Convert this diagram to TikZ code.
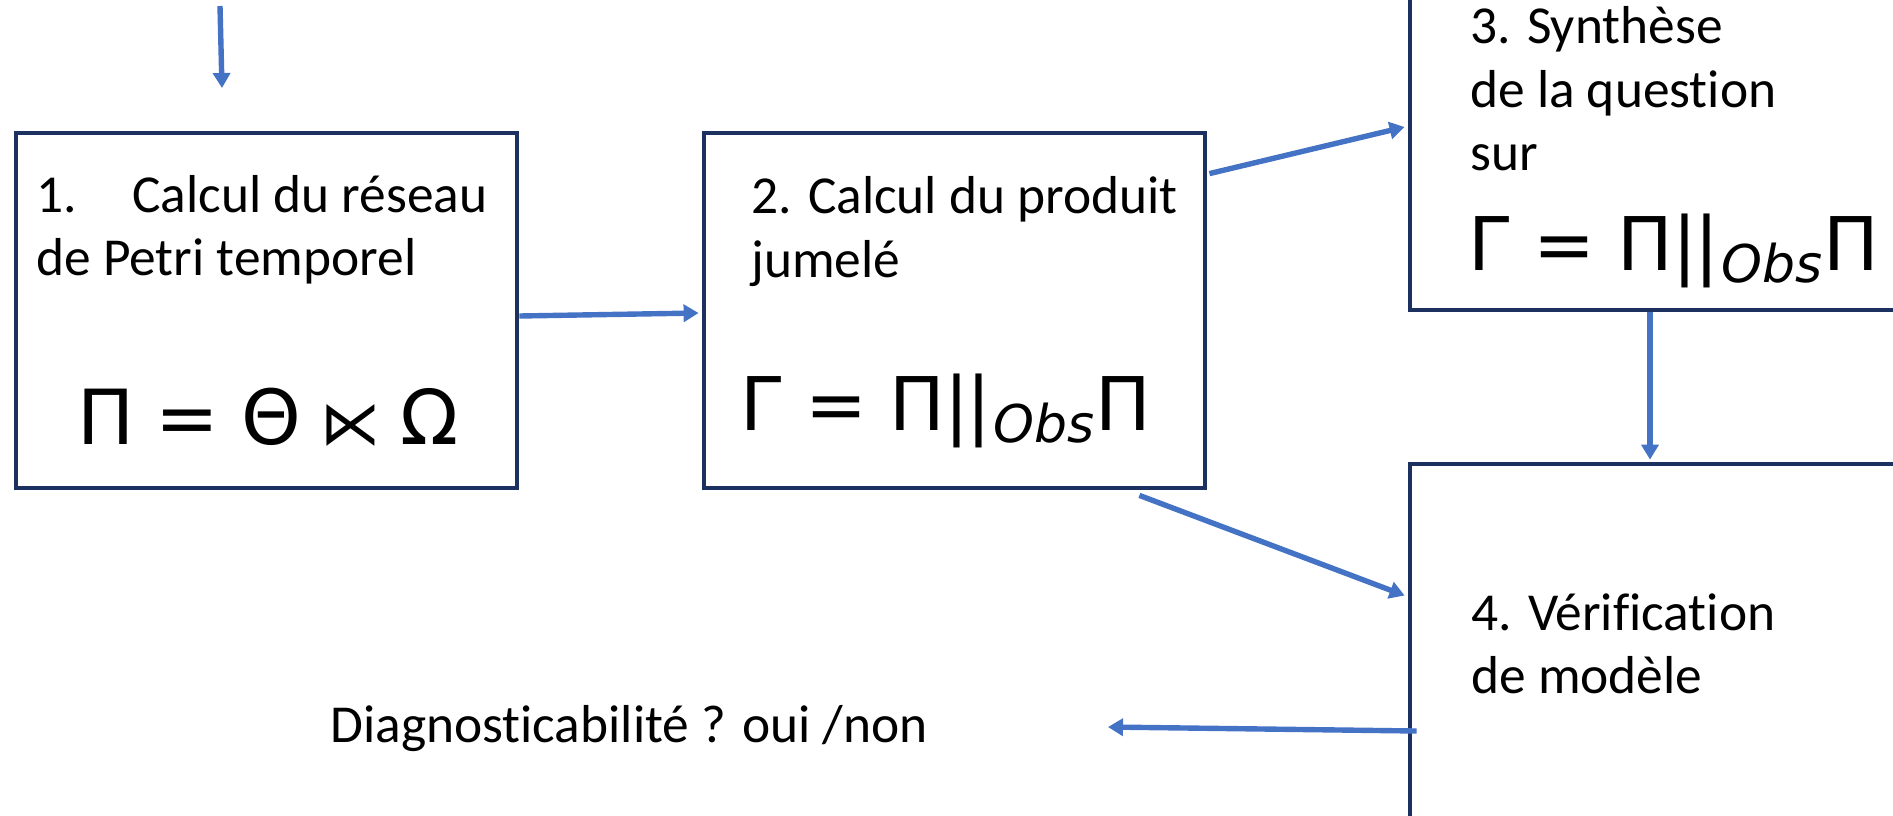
\documentclass[tikz,border=0pt]{standalone}
\usepackage{fontspec}
\setmainfont{Carlito}[Ligatures=NoCommon]
\newfontfamily\dv{DejaVu Sans}
\usetikzlibrary{arrows.meta,calc}
\definecolor{boxline}{HTML}{1C3160}
\definecolor{arrblue}{HTML}{4472C4}
\tikzset{
 stepbox/.style={draw=boxline, line width=2.4pt, rectangle, minimum width=250.5pt, minimum height=177.5pt, inner sep=0pt},
 txt/.style={anchor=base west, inner sep=0pt, font=\fontsize{26.7pt}{32pt}\selectfont},
 frm/.style={anchor=base west, inner sep=0pt, font=\dv\fontsize{37pt}{40pt}\selectfont},
 arr/.style={draw=arrblue, line width=2.7pt, -{Triangle[length=7.5pt,width=8.5pt]}},
}
\newcommand{\obsprod}{\makebox[0pt][l]{Γ}\hspace{48.25pt}\makebox[0pt]{=}\hspace{40.25pt}\makebox[0pt]{Π}\hspace{19.75pt}\makebox[0pt]{|}\hspace{11pt}\makebox[0pt]{|}\hspace{7.25pt}\makebox[0pt][l]{\raisebox{-6.25pt}{\fontsize{26pt}{26pt}\selectfont\itshape Obs}}\hspace{65pt}\makebox[0pt]{Π}}
\newcommand{\semidir}{\makebox[0pt]{Π}\hspace{40.5pt}\makebox[0pt]{=}\hspace{42pt}\makebox[0pt]{Θ}\hspace{39.5pt}\makebox[0pt]{\scalebox{0.8}{⋉}}\hspace{39.5pt}\makebox[0pt]{Ω}}
\begin{document}
\begin{tikzpicture}[x=0.5pt,y=-0.5pt]
\useasboundingbox (0,0) rectangle (1893,815);
\clip (0,0) rectangle (1893,815);
% boxes
\node[stepbox] (b1) at (266.5,310.5) {};
\node[stepbox] (b2) at (954.5,310.5) {};
\node[stepbox] (b3) at (1660.5,132.5) {};
\node[stepbox] (b4) at (1660.5,641.5) {};
% texts
\node[txt] (t1a) at (36,212) {\makebox[48pt][l]{1.}Calcul du réseau};
\node[txt] (t1b) at (36,275) {de Petri temporel};
\node[frm, font=\dv\fontsize{38pt}{40pt}\selectfont] (f1) at (106,444) {\semidir};
\node[txt] (t2a) at (751,213) {2. Calcul du produit};
\node[txt] (t2b) at (751,277) {jumelé};
\node[frm] (f2) at (740,430) {\obsprod};
\node[txt] (t3a) at (1470,43) {3. Synthèse};
\node[txt] (t3b) at (1470,107) {de la question};
\node[txt] (t3c) at (1470,170) {sur};
\node[frm] (f3) at (1468,270) {\obsprod};
\node[txt] (t4a) at (1471,630) {4. Vérification};
\node[txt] (t4b) at (1471,693) {de modèle};
\node[txt] (diag) at (330,742) {Diagnosticabilité ? oui /non};
% free ends
\coordinate (src) at (220,6);
\coordinate (snk) at (222,88);
\coordinate (out) at (1108,727);
% connectors
\draw[arr] (src) -- (snk);
\draw[arr] ($(b1.east)+(0,5.5)$) -- ($(b2.west)+(-3,2.5)$);
\draw[arr] ($(b2.north east)+(2,43)$) -- ($(b3.west)+(-3,-5.5)$);
\draw[arr] ($(b3.south)+(-10.5,0)$) -- ($(b4.north)+(-10.5,-2)$);
\draw[arr] ($(b2.south east)+(-68,5)$) -- ($(b4.west)+(-3,-46)$);
\draw[arr] ($(b4.west)+(9,89.5)$) -- (out);
\end{tikzpicture}
\end{document}
